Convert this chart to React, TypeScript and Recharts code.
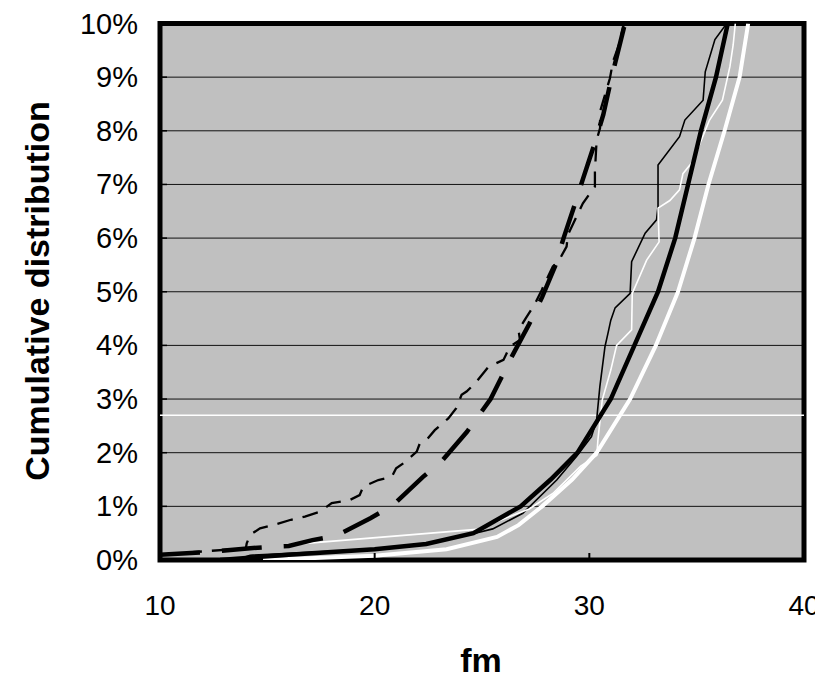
import React from 'react';
import { LineChart, Line, XAxis, YAxis, CartesianGrid, ReferenceLine, ReferenceArea, Label } from 'recharts';

type P = { x: number; y: number };
const pts = (a: number[][]): P[] => a.map(([x, y]) => ({ x, y }));

const xTicks = [10, 20, 30, 40];
const yTicks = [0, 1, 2, 3, 4, 5, 6, 7, 8, 9, 10];
const refLevel = 2.7;

const thinBlack = pts([
  [13.5, 0], [14.2, 0.09], [19.8, 0.2], [22.4, 0.3], [24.4, 0.47], [25.5, 0.58], [26.9, 0.87],
  [28.48, 1.49], [29.4, 1.93], [30.1, 2.3], [30.34, 2.61], [30.49, 3.23], [30.73, 3.98],
  [30.87, 4.23], [31.0, 4.47], [31.2, 4.7], [31.9, 4.97], [31.97, 5.56], [32.6, 6.09],
  [33.13, 6.34], [33.2, 6.59], [33.2, 7.36], [34.2, 7.89], [34.45, 8.2], [35.3, 8.57],
  [35.4, 9.1], [35.85, 9.7], [36.4, 10],
]);

const thinWhite = pts([
  [16.5, 0.3], [24.75, 0.57], [27.2, 0.95], [28.3, 1.24], [29.6, 1.75], [30.35, 1.95],
  [30.4, 2.24], [30.6, 2.98], [31.0, 3.54], [31.27, 4.0], [31.97, 4.29], [32.0, 4.97],
  [32.67, 5.59], [33.25, 5.93], [33.2, 6.56], [33.75, 6.7], [34.2, 6.9], [34.36, 7.2],
  [34.8, 7.42], [35.6, 8.2], [36.2, 8.57], [36.55, 9.2], [36.7, 9.6], [36.8, 10],
]);

const thinDashed = pts([
  [10, 0.1], [14, 0.22], [14.04, 0.31], [14.2, 0.47], [14.66, 0.59], [15.27, 0.65], [16.1, 0.75],
  [16.75, 0.81], [17.45, 0.9], [18.0, 1.06], [18.85, 1.12], [19.3, 1.21], [19.47, 1.37],
  [20.17, 1.49], [20.8, 1.55], [21.0, 1.71], [21.33, 1.8], [21.96, 2.02], [22.1, 2.17],
  [22.42, 2.24], [22.8, 2.42], [23.43, 2.64], [23.8, 2.83], [24.05, 3.08], [24.28, 3.14],
  [24.67, 3.29], [25.3, 3.6], [26.0, 3.73], [26.3, 3.98], [26.77, 4.1], [26.7, 4.29],
  [27.08, 4.53], [27.47, 4.78], [27.78, 5.03], [27.93, 5.16], [28.3, 5.47], [28.55, 5.56],
  [28.94, 5.84], [29.0, 6.06], [29.7, 6.65], [30.26, 6.96], [30.26, 7.24], [30.34, 7.83],
  [30.5, 8.05], [30.5, 8.36], [30.73, 8.67], [30.96, 8.98], [31.1, 9.29], [31.35, 9.57],
  [31.58, 9.94], [31.62, 10],
]);

const thickWhite = pts([
  [14.8, 0], [20, 0.08], [23.35, 0.2], [25.7, 0.43], [26.7, 0.65], [27.8, 1.0], [29.2, 1.5],
  [30.34, 2.0], [31.9, 3.0], [33.1, 4.0], [34.13, 5.0], [34.9, 6.0], [35.55, 7.0],
  [36.3, 8.0], [37.0, 9.0], [37.4, 10],
]);

const thickBlack = pts([
  [12.8, 0], [16, 0.1], [20, 0.2], [22.4, 0.3], [24.6, 0.5], [26.8, 1.0], [28.2, 1.5],
  [29.45, 2.0], [31.0, 3.0], [32.1, 4.0], [33.2, 5.0], [34.0, 6.0], [34.6, 7.0],
  [35.2, 8.0], [35.9, 9.0], [36.45, 10],
]);

const thickDashed = pts([
  [10, 0.1], [12.3, 0.15], [14.2, 0.22], [15.3, 0.25], [16, 0.26], [17.1, 0.37], [18.2, 0.45],
  [19.8, 0.78], [20.85, 1.02], [22.25, 1.55], [23.1, 1.83], [24.3, 2.39], [25.4, 3.0],
  [26.4, 3.8], [27.2, 4.4], [27.8, 4.9], [28.4, 5.47], [28.8, 6.0], [29.3, 6.6], [29.7, 7.1],
  [30.3, 7.83], [30.65, 8.3], [31.04, 9.0], [31.66, 10.0],
]);

const FONT = 'Arial, "Liberation Sans", sans-serif';

const XTick = (props: any) => {
  const { x, y, payload } = props;
  const v = payload.value;
  return (
    <g>
      {v !== 10 && v !== 40 && (
        <line x1={x} x2={x} y1={y} y2={y - 7} stroke="#000" strokeWidth={2} />
      )}
      <text x={x} y={y + 45} textAnchor="middle" dominantBaseline="central" fontSize={28} fontFamily={FONT} fill="#000">
        {v}
      </text>
    </g>
  );
};

const YTick = (props: any) => {
  const { x, y, payload } = props;
  return (
    <g>
      <line x1={x} x2={x + 7} y1={y} y2={y} stroke="#000" strokeWidth={1.5} />
      <text x={x - 22} y={y} textAnchor="end" dominantBaseline="central" fontSize={29} fontFamily={FONT} fill="#000">
        {`${payload.value}%`}
      </text>
    </g>
  );
};

export default function App() {
  return (
    <div style={{ width: 807, height: 671, position: 'relative' }}>
      <div style={{ position: 'absolute', left: -8, top: -8, width: 823, height: 686 }}>
        <LineChart width={823} height={686} margin={{ top: 23.5, right: 19, bottom: 8, left: 8 }}>
          <CartesianGrid horizontal vertical={false} fill="#C0C0C0" stroke="#111" strokeWidth={1} />
          <XAxis
            dataKey="x"
            type="number"
            domain={[10, 40]}
            ticks={xTicks}
            height={118}
            tickSize={0}
            tickMargin={0}
            tick={<XTick />}
            axisLine={false}
            allowDataOverflow
          >
            <Label
              content={() => (
                <text x={481} y={660} textAnchor="middle" dominantBaseline="central" fontSize={34} fontWeight="bold" fontFamily={FONT} fill="#000">
                  fm
                </text>
              )}
            />
          </XAxis>
          <YAxis
            dataKey="y"
            type="number"
            domain={[0, 10]}
            ticks={yTicks}
            width={152}
            tickSize={0}
            tickMargin={0}
            tick={<YTick />}
            axisLine={false}
            allowDataOverflow
          >
            <Label
              content={() => (
                <text transform="translate(37,291) rotate(-90)" textAnchor="middle" dominantBaseline="central" fontSize={34} fontWeight="bold" fontFamily={FONT} fill="#000">
                  Cumulative distribution
                </text>
              )}
            />
          </YAxis>
          <ReferenceLine y={refLevel} stroke="#fff" strokeWidth={1.5} />
          <Line data={thinBlack} dataKey="y" type="linear" dot={false} stroke="#000" strokeWidth={1.6} isAnimationActive={false} />
          <Line data={thinWhite} dataKey="y" type="linear" dot={false} stroke="#fff" strokeWidth={1.6} isAnimationActive={false} />
          <Line data={thinDashed} dataKey="y" type="linear" dot={false} stroke="#000" strokeWidth={2.3} strokeDasharray="16 10" isAnimationActive={false} />
          <Line data={thickWhite} dataKey="y" type="linear" dot={false} stroke="#fff" strokeWidth={4} isAnimationActive={false} />
          <Line data={thickBlack} dataKey="y" type="linear" dot={false} stroke="#000" strokeWidth={4.5} isAnimationActive={false} />
          <Line data={thickDashed} dataKey="y" type="linear" dot={false} stroke="#000" strokeWidth={4.5} strokeDasharray="40 22" isAnimationActive={false} />
          <ReferenceArea x1={10} x2={40} y1={0} y2={10} fill="none" stroke="#000" strokeWidth={5} />
        </LineChart>
      </div>
    </div>
  );
}
